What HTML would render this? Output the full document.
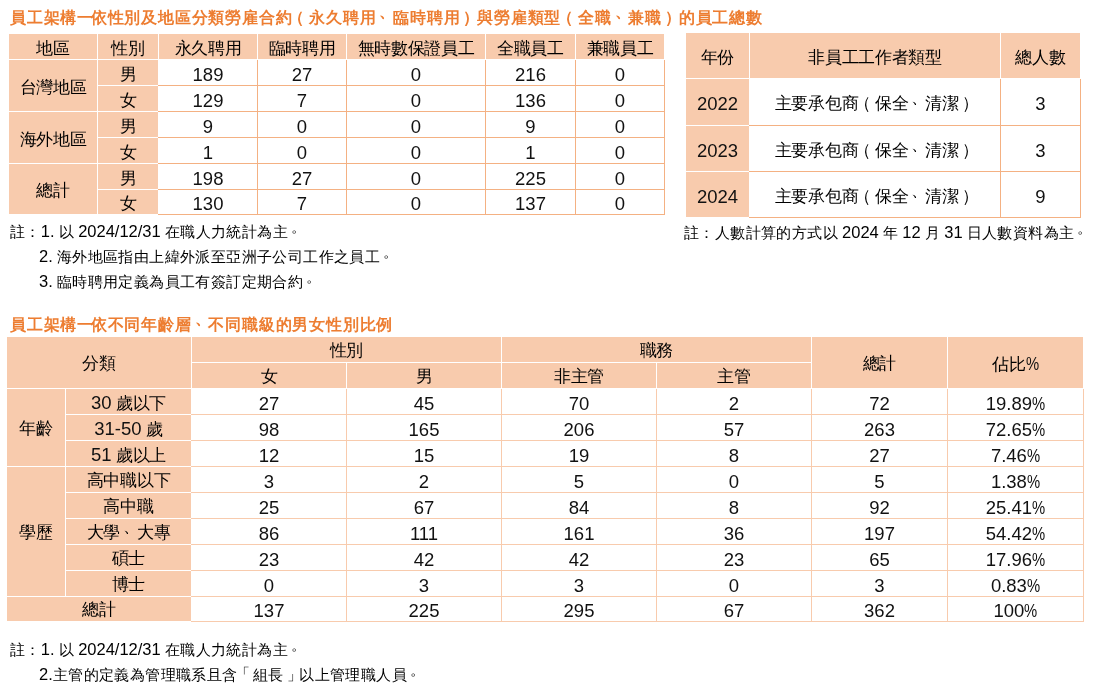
<!DOCTYPE html>
<html><head><meta charset="utf-8"><style>
html,body{margin:0;padding:0;background:#fff;width:1093px;height:694px;overflow:hidden}
#w{position:absolute;left:0;top:0;width:1093px;height:694px;will-change:transform}
body{position:relative;font-family:"Liberation Sans",sans-serif;color:#000}
.r{position:absolute}
.c{position:absolute;text-align:center;white-space:nowrap;font-size:17px;letter-spacing:-0.3px}
.c .l{font-size:18.5px;letter-spacing:0;color:#111}
u{text-decoration:none;position:relative}
.po{left:-4px}
.pc{left:3px}
.pd{left:3px;top:-6px}
.yi{letter-spacing:-2.5px}
.bo{left:-3px;top:-1px}
.bc{left:3px}
i{font-style:normal;display:inline-block;transform:scaleX(0.8);transform-origin:0 0;margin-right:-3.3px}
.ttl{position:absolute;white-space:nowrap;font-size:16px;letter-spacing:0.8px;font-weight:bold;color:#ed7d31;line-height:22px}
.ttl .l{font-size:18px}
.note{position:absolute;white-space:nowrap;font-size:15px;letter-spacing:0.4px;word-spacing:-0.5px;line-height:20px;color:#000}
.note .l{font-size:16.5px;letter-spacing:0;word-spacing:-0.5px}
.note b{font-weight:normal;position:relative;top:-5px;left:3px}
</style></head><body><div id="w">
<div class="ttl" style="left:10px;top:7px">員工架構<u class="yi">一</u>依性別及地區分類勞雇合約<u class="po">（</u>永久聘用<u class="pd">、</u>臨時聘用<u class="pc">）</u>與勞雇類型<u class="po">（</u>全職<u class="pd">、</u>兼職<u class="pc">）</u>的員工總數</div>
<div class="r" style="left:9px;top:34px;width:655px;height:25px;background:#f8cbad"></div>
<div class="r" style="left:97px;top:34px;width:1px;height:25px;background:#fff"></div>
<div class="r" style="left:158px;top:34px;width:1px;height:25px;background:#fff"></div>
<div class="r" style="left:257px;top:34px;width:1px;height:25px;background:#fff"></div>
<div class="r" style="left:346px;top:34px;width:1px;height:25px;background:#fff"></div>
<div class="r" style="left:485px;top:34px;width:1px;height:25px;background:#fff"></div>
<div class="r" style="left:575px;top:34px;width:1px;height:25px;background:#fff"></div>
<div class="c" style="left:9px;top:36px;width:88px;height:25px;line-height:25px">地區</div>
<div class="c" style="left:98px;top:36px;width:60px;height:25px;line-height:25px">性別</div>
<div class="c" style="left:159px;top:36px;width:98px;height:25px;line-height:25px">永久聘用</div>
<div class="c" style="left:258px;top:36px;width:88px;height:25px;line-height:25px">臨時聘用</div>
<div class="c" style="left:347px;top:36px;width:138px;height:25px;line-height:25px">無時數保證員工</div>
<div class="c" style="left:486px;top:36px;width:89px;height:25px;line-height:25px">全職員工</div>
<div class="c" style="left:576px;top:36px;width:88px;height:25px;line-height:25px">兼職員工</div>
<div class="r" style="left:9px;top:60px;width:88px;height:51px;background:#f8cbad"></div>
<div class="r" style="left:98px;top:60px;width:60px;height:25px;background:#f8cbad"></div>
<div class="r" style="left:98px;top:86px;width:60px;height:25px;background:#f8cbad"></div>
<div class="r" style="left:9px;top:112px;width:88px;height:51px;background:#f8cbad"></div>
<div class="r" style="left:98px;top:112px;width:60px;height:25px;background:#f8cbad"></div>
<div class="r" style="left:98px;top:138px;width:60px;height:25px;background:#f8cbad"></div>
<div class="r" style="left:9px;top:164px;width:88px;height:50px;background:#f8cbad"></div>
<div class="r" style="left:98px;top:164px;width:60px;height:25px;background:#f8cbad"></div>
<div class="r" style="left:98px;top:190px;width:60px;height:24px;background:#f8cbad"></div>
<div class="r" style="left:158px;top:85px;width:507px;height:1px;background:#f4b183"></div>
<div class="r" style="left:158px;top:111px;width:507px;height:1px;background:#f4b183"></div>
<div class="r" style="left:158px;top:137px;width:507px;height:1px;background:#f4b183"></div>
<div class="r" style="left:158px;top:163px;width:507px;height:1px;background:#f4b183"></div>
<div class="r" style="left:158px;top:189px;width:507px;height:1px;background:#f4b183"></div>
<div class="r" style="left:158px;top:214px;width:507px;height:1px;background:#f4b183"></div>
<div class="r" style="left:257px;top:60px;width:1px;height:155px;background:#f4b183"></div>
<div class="r" style="left:346px;top:60px;width:1px;height:155px;background:#f4b183"></div>
<div class="r" style="left:485px;top:60px;width:1px;height:155px;background:#f4b183"></div>
<div class="r" style="left:575px;top:60px;width:1px;height:155px;background:#f4b183"></div>
<div class="r" style="left:664px;top:60px;width:1px;height:155px;background:#f4b183"></div>
<div class="c" style="left:9px;top:62px;width:88px;height:51px;line-height:51px">台灣地區</div>
<div class="c" style="left:98px;top:62px;width:60px;height:25px;line-height:25px">男</div>
<div class="c" style="left:159px;top:62px;width:98px;height:25px;line-height:25px"><span class="l">189</span></div>
<div class="c" style="left:258px;top:62px;width:88px;height:25px;line-height:25px"><span class="l">27</span></div>
<div class="c" style="left:347px;top:62px;width:138px;height:25px;line-height:25px"><span class="l">0</span></div>
<div class="c" style="left:486px;top:62px;width:89px;height:25px;line-height:25px"><span class="l">216</span></div>
<div class="c" style="left:576px;top:62px;width:88px;height:25px;line-height:25px"><span class="l">0</span></div>
<div class="c" style="left:98px;top:88px;width:60px;height:25px;line-height:25px">女</div>
<div class="c" style="left:159px;top:88px;width:98px;height:25px;line-height:25px"><span class="l">129</span></div>
<div class="c" style="left:258px;top:88px;width:88px;height:25px;line-height:25px"><span class="l">7</span></div>
<div class="c" style="left:347px;top:88px;width:138px;height:25px;line-height:25px"><span class="l">0</span></div>
<div class="c" style="left:486px;top:88px;width:89px;height:25px;line-height:25px"><span class="l">136</span></div>
<div class="c" style="left:576px;top:88px;width:88px;height:25px;line-height:25px"><span class="l">0</span></div>
<div class="c" style="left:9px;top:114px;width:88px;height:51px;line-height:51px">海外地區</div>
<div class="c" style="left:98px;top:114px;width:60px;height:25px;line-height:25px">男</div>
<div class="c" style="left:159px;top:114px;width:98px;height:25px;line-height:25px"><span class="l">9</span></div>
<div class="c" style="left:258px;top:114px;width:88px;height:25px;line-height:25px"><span class="l">0</span></div>
<div class="c" style="left:347px;top:114px;width:138px;height:25px;line-height:25px"><span class="l">0</span></div>
<div class="c" style="left:486px;top:114px;width:89px;height:25px;line-height:25px"><span class="l">9</span></div>
<div class="c" style="left:576px;top:114px;width:88px;height:25px;line-height:25px"><span class="l">0</span></div>
<div class="c" style="left:98px;top:140px;width:60px;height:25px;line-height:25px">女</div>
<div class="c" style="left:159px;top:140px;width:98px;height:25px;line-height:25px"><span class="l">1</span></div>
<div class="c" style="left:258px;top:140px;width:88px;height:25px;line-height:25px"><span class="l">0</span></div>
<div class="c" style="left:347px;top:140px;width:138px;height:25px;line-height:25px"><span class="l">0</span></div>
<div class="c" style="left:486px;top:140px;width:89px;height:25px;line-height:25px"><span class="l">1</span></div>
<div class="c" style="left:576px;top:140px;width:88px;height:25px;line-height:25px"><span class="l">0</span></div>
<div class="c" style="left:9px;top:166px;width:88px;height:50px;line-height:50px">總計</div>
<div class="c" style="left:98px;top:166px;width:60px;height:25px;line-height:25px">男</div>
<div class="c" style="left:159px;top:166px;width:98px;height:25px;line-height:25px"><span class="l">198</span></div>
<div class="c" style="left:258px;top:166px;width:88px;height:25px;line-height:25px"><span class="l">27</span></div>
<div class="c" style="left:347px;top:166px;width:138px;height:25px;line-height:25px"><span class="l">0</span></div>
<div class="c" style="left:486px;top:166px;width:89px;height:25px;line-height:25px"><span class="l">225</span></div>
<div class="c" style="left:576px;top:166px;width:88px;height:25px;line-height:25px"><span class="l">0</span></div>
<div class="c" style="left:98px;top:192px;width:60px;height:24px;line-height:24px">女</div>
<div class="c" style="left:159px;top:192px;width:98px;height:24px;line-height:24px"><span class="l">130</span></div>
<div class="c" style="left:258px;top:192px;width:88px;height:24px;line-height:24px"><span class="l">7</span></div>
<div class="c" style="left:347px;top:192px;width:138px;height:24px;line-height:24px"><span class="l">0</span></div>
<div class="c" style="left:486px;top:192px;width:89px;height:24px;line-height:24px"><span class="l">137</span></div>
<div class="c" style="left:576px;top:192px;width:88px;height:24px;line-height:24px"><span class="l">0</span></div>
<div class="note" style="left:10px;top:221px">註：<span class="l">1.</span> 以 <span class="l">2024/12/31</span> 在職人力統計為主<b>。</b></div>
<div class="note" style="left:39px;top:246px"><span class="l">2.</span> 海外地區指由上緯外派至亞洲子公司工作之員工<b>。</b></div>
<div class="note" style="left:39px;top:271px"><span class="l">3.</span> 臨時聘用定義為員工有簽訂定期合約<b>。</b></div>
<div class="r" style="left:686px;top:33px;width:394px;height:45px;background:#f8cbad"></div>
<div class="r" style="left:749px;top:33px;width:1px;height:45px;background:#fff"></div>
<div class="r" style="left:1000px;top:33px;width:1px;height:45px;background:#fff"></div>
<div class="c" style="left:686px;top:34.5px;width:63px;height:45px;line-height:45px">年份</div>
<div class="c" style="left:750px;top:34.5px;width:250px;height:45px;line-height:45px">非員工工作者類型</div>
<div class="c" style="left:1001px;top:34.5px;width:79px;height:45px;line-height:45px">總人數</div>
<div class="r" style="left:686px;top:79px;width:63px;height:46px;background:#f8cbad"></div>
<div class="c" style="left:686px;top:80.5px;width:63px;height:46px;line-height:46px"><span class="l">2022</span></div>
<div class="c" style="left:750px;top:80.5px;width:250px;height:46px;line-height:46px">主要承包商<u class="po">（</u>保全<u class="pd">、</u>清潔<u class="pc">）</u></div>
<div class="c" style="left:1001px;top:80.5px;width:79px;height:46px;line-height:46px"><span class="l">3</span></div>
<div class="r" style="left:686px;top:126px;width:63px;height:45px;background:#f8cbad"></div>
<div class="c" style="left:686px;top:127.5px;width:63px;height:45px;line-height:45px"><span class="l">2023</span></div>
<div class="c" style="left:750px;top:127.5px;width:250px;height:45px;line-height:45px">主要承包商<u class="po">（</u>保全<u class="pd">、</u>清潔<u class="pc">）</u></div>
<div class="c" style="left:1001px;top:127.5px;width:79px;height:45px;line-height:45px"><span class="l">3</span></div>
<div class="r" style="left:686px;top:172px;width:63px;height:45px;background:#f8cbad"></div>
<div class="c" style="left:686px;top:173.5px;width:63px;height:45px;line-height:45px"><span class="l">2024</span></div>
<div class="c" style="left:750px;top:173.5px;width:250px;height:45px;line-height:45px">主要承包商<u class="po">（</u>保全<u class="pd">、</u>清潔<u class="pc">）</u></div>
<div class="c" style="left:1001px;top:173.5px;width:79px;height:45px;line-height:45px"><span class="l">9</span></div>
<div class="r" style="left:749px;top:125px;width:332px;height:1px;background:#f4b183"></div>
<div class="r" style="left:749px;top:171px;width:332px;height:1px;background:#f4b183"></div>
<div class="r" style="left:749px;top:217px;width:332px;height:1px;background:#f4b183"></div>
<div class="r" style="left:1000px;top:79px;width:1px;height:139px;background:#f4b183"></div>
<div class="r" style="left:1080px;top:79px;width:1px;height:139px;background:#f4b183"></div>
<div class="note" style="left:684px;top:222px">註：人數計算的方式以 <span class="l">2024</span> 年 <span class="l">12</span> 月 <span class="l">31</span> 日人數資料為主<b>。</b></div>
<div class="ttl" style="left:10px;top:314px">員工架構<u class="yi">一</u>依不同年齡層<u class="pd">、</u>不同職級的男女性別比例</div>
<div class="r" style="left:7px;top:337px;width:1076px;height:51px;background:#f8cbad"></div>
<div class="r" style="left:191px;top:337px;width:1px;height:51px;background:#fff"></div>
<div class="r" style="left:501px;top:337px;width:1px;height:51px;background:#fff"></div>
<div class="r" style="left:811px;top:337px;width:1px;height:51px;background:#fff"></div>
<div class="r" style="left:947px;top:337px;width:1px;height:51px;background:#fff"></div>
<div class="r" style="left:346px;top:362px;width:1px;height:26px;background:#fff"></div>
<div class="r" style="left:656px;top:362px;width:1px;height:26px;background:#fff"></div>
<div class="r" style="left:191px;top:362px;width:620px;height:1px;background:#fff"></div>
<div class="c" style="left:7px;top:337.5px;width:184px;height:51px;line-height:51px">分類</div>
<div class="c" style="left:192px;top:337.5px;width:309px;height:25px;line-height:25px">性別</div>
<div class="c" style="left:502px;top:337.5px;width:309px;height:25px;line-height:25px">職務</div>
<div class="c" style="left:812px;top:337.5px;width:135px;height:51px;line-height:51px">總計</div>
<div class="c" style="left:948px;top:337.5px;width:135px;height:51px;line-height:51px">佔比<span class="l"><i>%</i></span></div>
<div class="c" style="left:192px;top:363.5px;width:154px;height:25px;line-height:25px">女</div>
<div class="c" style="left:347px;top:363.5px;width:154px;height:25px;line-height:25px">男</div>
<div class="c" style="left:502px;top:363.5px;width:154px;height:25px;line-height:25px">非主管</div>
<div class="c" style="left:657px;top:363.5px;width:154px;height:25px;line-height:25px">主管</div>
<div class="r" style="left:7px;top:389px;width:184px;height:232px;background:#f8cbad"></div>
<div class="r" style="left:7px;top:466px;width:184px;height:1px;background:#fff"></div>
<div class="r" style="left:7px;top:596px;width:184px;height:1px;background:#fff"></div>
<div class="r" style="left:65px;top:389px;width:1px;height:207px;background:#fff"></div>
<div class="r" style="left:66px;top:414px;width:125px;height:1px;background:#fff"></div>
<div class="r" style="left:66px;top:440px;width:125px;height:1px;background:#fff"></div>
<div class="r" style="left:66px;top:492px;width:125px;height:1px;background:#fff"></div>
<div class="r" style="left:66px;top:518px;width:125px;height:1px;background:#fff"></div>
<div class="r" style="left:66px;top:544px;width:125px;height:1px;background:#fff"></div>
<div class="r" style="left:66px;top:570px;width:125px;height:1px;background:#fff"></div>
<div class="r" style="left:191px;top:414px;width:893px;height:1px;background:#f8cbad"></div>
<div class="r" style="left:191px;top:440px;width:893px;height:1px;background:#f8cbad"></div>
<div class="r" style="left:191px;top:466px;width:893px;height:1px;background:#f8cbad"></div>
<div class="r" style="left:191px;top:492px;width:893px;height:1px;background:#f8cbad"></div>
<div class="r" style="left:191px;top:518px;width:893px;height:1px;background:#f8cbad"></div>
<div class="r" style="left:191px;top:544px;width:893px;height:1px;background:#f8cbad"></div>
<div class="r" style="left:191px;top:570px;width:893px;height:1px;background:#f8cbad"></div>
<div class="r" style="left:191px;top:596px;width:893px;height:1px;background:#f8cbad"></div>
<div class="r" style="left:191px;top:621px;width:893px;height:1px;background:#f8cbad"></div>
<div class="r" style="left:346px;top:389px;width:1px;height:233px;background:#f8cbad"></div>
<div class="r" style="left:501px;top:389px;width:1px;height:233px;background:#f8cbad"></div>
<div class="r" style="left:656px;top:389px;width:1px;height:233px;background:#f8cbad"></div>
<div class="r" style="left:811px;top:389px;width:1px;height:233px;background:#f8cbad"></div>
<div class="r" style="left:947px;top:389px;width:1px;height:233px;background:#f8cbad"></div>
<div class="r" style="left:1083px;top:389px;width:1px;height:233px;background:#f8cbad"></div>
<div class="c" style="left:7px;top:389.5px;width:58px;height:77px;line-height:77px">年齡</div>
<div class="c" style="left:7px;top:467.5px;width:58px;height:129px;line-height:129px">學歷</div>
<div class="c" style="left:7px;top:597.5px;width:184px;height:24px;line-height:24px">總計</div>
<div class="c" style="left:66px;top:389.5px;width:125px;height:25px;line-height:25px"><span class="l">30</span> 歲以下</div>
<div class="c" style="left:192px;top:390.5px;width:154px;height:25px;line-height:25px"><span class="l">27</span></div>
<div class="c" style="left:347px;top:390.5px;width:154px;height:25px;line-height:25px"><span class="l">45</span></div>
<div class="c" style="left:502px;top:390.5px;width:154px;height:25px;line-height:25px"><span class="l">70</span></div>
<div class="c" style="left:657px;top:390.5px;width:154px;height:25px;line-height:25px"><span class="l">2</span></div>
<div class="c" style="left:812px;top:390.5px;width:135px;height:25px;line-height:25px"><span class="l">72</span></div>
<div class="c" style="left:948px;top:390.5px;width:135px;height:25px;line-height:25px"><span class="l">19.89<i>%</i></span></div>
<div class="c" style="left:66px;top:415.5px;width:125px;height:25px;line-height:25px"><span class="l">31-50</span> 歲</div>
<div class="c" style="left:192px;top:416.5px;width:154px;height:25px;line-height:25px"><span class="l">98</span></div>
<div class="c" style="left:347px;top:416.5px;width:154px;height:25px;line-height:25px"><span class="l">165</span></div>
<div class="c" style="left:502px;top:416.5px;width:154px;height:25px;line-height:25px"><span class="l">206</span></div>
<div class="c" style="left:657px;top:416.5px;width:154px;height:25px;line-height:25px"><span class="l">57</span></div>
<div class="c" style="left:812px;top:416.5px;width:135px;height:25px;line-height:25px"><span class="l">263</span></div>
<div class="c" style="left:948px;top:416.5px;width:135px;height:25px;line-height:25px"><span class="l">72.65<i>%</i></span></div>
<div class="c" style="left:66px;top:441.5px;width:125px;height:25px;line-height:25px"><span class="l">51</span> 歲以上</div>
<div class="c" style="left:192px;top:442.5px;width:154px;height:25px;line-height:25px"><span class="l">12</span></div>
<div class="c" style="left:347px;top:442.5px;width:154px;height:25px;line-height:25px"><span class="l">15</span></div>
<div class="c" style="left:502px;top:442.5px;width:154px;height:25px;line-height:25px"><span class="l">19</span></div>
<div class="c" style="left:657px;top:442.5px;width:154px;height:25px;line-height:25px"><span class="l">8</span></div>
<div class="c" style="left:812px;top:442.5px;width:135px;height:25px;line-height:25px"><span class="l">27</span></div>
<div class="c" style="left:948px;top:442.5px;width:135px;height:25px;line-height:25px"><span class="l">7.46<i>%</i></span></div>
<div class="c" style="left:66px;top:467.5px;width:125px;height:25px;line-height:25px">高中職以下</div>
<div class="c" style="left:192px;top:468.5px;width:154px;height:25px;line-height:25px"><span class="l">3</span></div>
<div class="c" style="left:347px;top:468.5px;width:154px;height:25px;line-height:25px"><span class="l">2</span></div>
<div class="c" style="left:502px;top:468.5px;width:154px;height:25px;line-height:25px"><span class="l">5</span></div>
<div class="c" style="left:657px;top:468.5px;width:154px;height:25px;line-height:25px"><span class="l">0</span></div>
<div class="c" style="left:812px;top:468.5px;width:135px;height:25px;line-height:25px"><span class="l">5</span></div>
<div class="c" style="left:948px;top:468.5px;width:135px;height:25px;line-height:25px"><span class="l">1.38<i>%</i></span></div>
<div class="c" style="left:66px;top:493.5px;width:125px;height:25px;line-height:25px">高中職</div>
<div class="c" style="left:192px;top:494.5px;width:154px;height:25px;line-height:25px"><span class="l">25</span></div>
<div class="c" style="left:347px;top:494.5px;width:154px;height:25px;line-height:25px"><span class="l">67</span></div>
<div class="c" style="left:502px;top:494.5px;width:154px;height:25px;line-height:25px"><span class="l">84</span></div>
<div class="c" style="left:657px;top:494.5px;width:154px;height:25px;line-height:25px"><span class="l">8</span></div>
<div class="c" style="left:812px;top:494.5px;width:135px;height:25px;line-height:25px"><span class="l">92</span></div>
<div class="c" style="left:948px;top:494.5px;width:135px;height:25px;line-height:25px"><span class="l">25.41<i>%</i></span></div>
<div class="c" style="left:66px;top:519.5px;width:125px;height:25px;line-height:25px">大學<u class="pd">、</u>大專</div>
<div class="c" style="left:192px;top:520.5px;width:154px;height:25px;line-height:25px"><span class="l">86</span></div>
<div class="c" style="left:347px;top:520.5px;width:154px;height:25px;line-height:25px"><span class="l">111</span></div>
<div class="c" style="left:502px;top:520.5px;width:154px;height:25px;line-height:25px"><span class="l">161</span></div>
<div class="c" style="left:657px;top:520.5px;width:154px;height:25px;line-height:25px"><span class="l">36</span></div>
<div class="c" style="left:812px;top:520.5px;width:135px;height:25px;line-height:25px"><span class="l">197</span></div>
<div class="c" style="left:948px;top:520.5px;width:135px;height:25px;line-height:25px"><span class="l">54.42<i>%</i></span></div>
<div class="c" style="left:66px;top:545.5px;width:125px;height:25px;line-height:25px">碩士</div>
<div class="c" style="left:192px;top:546.5px;width:154px;height:25px;line-height:25px"><span class="l">23</span></div>
<div class="c" style="left:347px;top:546.5px;width:154px;height:25px;line-height:25px"><span class="l">42</span></div>
<div class="c" style="left:502px;top:546.5px;width:154px;height:25px;line-height:25px"><span class="l">42</span></div>
<div class="c" style="left:657px;top:546.5px;width:154px;height:25px;line-height:25px"><span class="l">23</span></div>
<div class="c" style="left:812px;top:546.5px;width:135px;height:25px;line-height:25px"><span class="l">65</span></div>
<div class="c" style="left:948px;top:546.5px;width:135px;height:25px;line-height:25px"><span class="l">17.96<i>%</i></span></div>
<div class="c" style="left:66px;top:571.5px;width:125px;height:25px;line-height:25px">博士</div>
<div class="c" style="left:192px;top:572.5px;width:154px;height:25px;line-height:25px"><span class="l">0</span></div>
<div class="c" style="left:347px;top:572.5px;width:154px;height:25px;line-height:25px"><span class="l">3</span></div>
<div class="c" style="left:502px;top:572.5px;width:154px;height:25px;line-height:25px"><span class="l">3</span></div>
<div class="c" style="left:657px;top:572.5px;width:154px;height:25px;line-height:25px"><span class="l">0</span></div>
<div class="c" style="left:812px;top:572.5px;width:135px;height:25px;line-height:25px"><span class="l">3</span></div>
<div class="c" style="left:948px;top:572.5px;width:135px;height:25px;line-height:25px"><span class="l">0.83<i>%</i></span></div>
<div class="c" style="left:192px;top:598.5px;width:154px;height:24px;line-height:24px"><span class="l">137</span></div>
<div class="c" style="left:347px;top:598.5px;width:154px;height:24px;line-height:24px"><span class="l">225</span></div>
<div class="c" style="left:502px;top:598.5px;width:154px;height:24px;line-height:24px"><span class="l">295</span></div>
<div class="c" style="left:657px;top:598.5px;width:154px;height:24px;line-height:24px"><span class="l">67</span></div>
<div class="c" style="left:812px;top:598.5px;width:135px;height:24px;line-height:24px"><span class="l">362</span></div>
<div class="c" style="left:948px;top:598.5px;width:135px;height:24px;line-height:24px"><span class="l">100<i>%</i></span></div>
<div class="note" style="left:10px;top:639px">註：<span class="l">1.</span> 以 <span class="l">2024/12/31</span> 在職人力統計為主<b>。</b></div>
<div class="note" style="left:39px;top:664px"><span class="l">2.</span>主管的定義為管理職系且含<u class="bo">「</u>組長<u class="bc">」</u>以上管理職人員<b>。</b></div>
</div></body></html>
